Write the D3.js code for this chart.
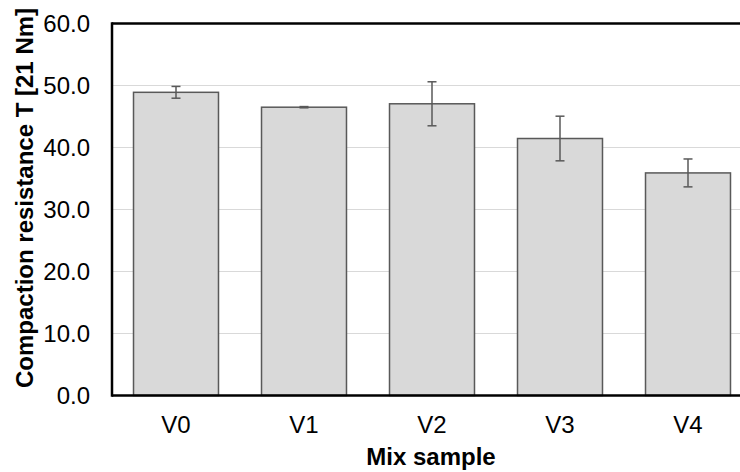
<!DOCTYPE html>
<html><head><meta charset="utf-8">
<script src="https://cdn.jsdelivr.net/npm/d3@7"></script>
<style>body{margin:0;background:#fff}svg{display:block}text{font-family:"Liberation Sans",Arial,sans-serif}</style>
</head><body>
<svg id="c" width="740" height="472"></svg>
<script>
const categories = ["V0","V1","V2","V3","V4"];
const values = [48.9, 46.5, 47.05, 41.45, 35.9];
const errors = [0.95, 0.1, 3.55, 3.6, 2.25];
const yTicks = [0,10,20,30,40,50,60];

const svg = d3.select("#c");
const pLeft = 112, pTop = 23.5, pBottom = 395.5, pRight = 752;
const FS = 24;
const x = d3.scaleBand().domain(categories).range([pLeft, pRight]).paddingInner(0.336).paddingOuter(0.168);
const y = d3.scaleLinear().domain([0,60]).range([pBottom, pTop]);

// gridlines
svg.append("g").selectAll("line").data(yTicks.filter(d=>d>0&&d<60)).join("line")
  .attr("x1", pLeft).attr("x2", 740).attr("y1", d=>y(d)).attr("y2", d=>y(d))
  .attr("stroke", "#d9d9d9").attr("stroke-width", 1.2);

// bars
svg.append("g").selectAll("rect").data(categories).join("rect")
  .attr("x", d=>x(d)).attr("width", x.bandwidth())
  .attr("y", (d,i)=>y(values[i])).attr("height", (d,i)=>y(0)-y(values[i]))
  .attr("fill", "#d9d9d9").attr("stroke", "#595959").attr("stroke-width", 1.5);

// error bars
const eg = svg.append("g").attr("stroke", "#595959").attr("stroke-width", 1.5);
categories.forEach((c,i)=>{
  const cx = x(c) + x.bandwidth()/2;
  const y1 = y(values[i]+errors[i]), y2 = y(values[i]-errors[i]);
  eg.append("line").attr("x1",cx).attr("x2",cx).attr("y1",y1).attr("y2",y2);
  eg.append("line").attr("x1",cx-4.5).attr("x2",cx+4.5).attr("y1",y1).attr("y2",y1);
  eg.append("line").attr("x1",cx-4.5).attr("x2",cx+4.5).attr("y1",y2).attr("y2",y2);
});

// axes frame
svg.append("line").attr("x1",pLeft).attr("x2",pLeft).attr("y1",pTop-1.2).attr("y2",pBottom+1.2).attr("stroke","#000").attr("stroke-width",2.5);
svg.append("line").attr("x1",pLeft).attr("x2",740).attr("y1",pTop).attr("y2",pTop).attr("stroke","#000").attr("stroke-width",2.5);
svg.append("line").attr("x1",pLeft).attr("x2",740).attr("y1",pBottom).attr("y2",pBottom).attr("stroke","#000").attr("stroke-width",2.5);

// y tick labels
const yAxis = d3.axisLeft(y).tickValues(yTicks).tickFormat(d3.format(".1f")).tickSize(0).tickPadding(22);
const ya = svg.append("g").attr("transform", `translate(${pLeft},0)`).call(yAxis);
ya.select(".domain").remove();
ya.attr("font-size", FS).attr("font-family", "Liberation Sans, Arial, sans-serif");
ya.selectAll("text").attr("fill", "#000");

// x tick labels
const xAxis = d3.axisBottom(x).tickSize(0).tickPadding(20.5);
const xa = svg.append("g").attr("transform", `translate(0,${pBottom})`).call(xAxis);
xa.select(".domain").remove();
xa.attr("font-size", FS).attr("font-family", "Liberation Sans, Arial, sans-serif");
xa.selectAll("text").attr("fill", "#000");

// titles
svg.append("text").attr("x", 431).attr("y", 465).attr("text-anchor","middle")
  .attr("font-size", FS).attr("font-weight","bold").text("Mix sample");
svg.append("text").attr("transform","translate(33,198) rotate(-90)").attr("text-anchor","middle")
  .attr("font-size", FS).attr("font-weight","bold").text("Compaction resistance T [21 Nm]");
</script>
</body></html>
